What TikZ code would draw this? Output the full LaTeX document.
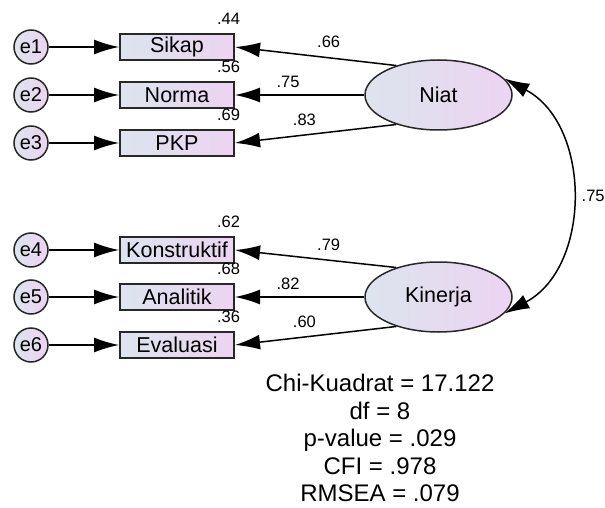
\documentclass[tikz,border=0pt]{standalone}
\usepackage{fontspec}
\setmainfont{Liberation Sans}
\usetikzlibrary{arrows.meta,shapes.geometric}
\definecolor{fillL}{RGB}{221,228,237}
\definecolor{fillR}{RGB}{236,212,242}
\definecolor{edge}{RGB}{40,40,40}

\begin{document}
\begin{tikzpicture}[x=1pt,y=-1pt,
 obs/.style={draw=edge,line width=2pt,left color=fillL,right color=fillR,
 minimum width=114pt,minimum height=26pt,inner sep=0pt,
 font=\fontsize{21.5}{24}\selectfont},
 err/.style={circle,draw=edge,line width=1.5pt,left color=fillL,
 right color=fillR,minimum size=34pt,inner sep=0pt,
 font=\fontsize{20}{22}\selectfont},
 lat/.style={ellipse,draw=edge,line width=1.5pt,left color=fillL,
 right color=fillR,minimum width=147pt,minimum height=70pt,inner sep=0pt,
 font=\fontsize{21.5}{24}\selectfont},
 reg/.style={line width=1.5pt,-{Latex[length=25pt,width=15pt]}},
 cov/.style={line width=1.5pt,{Latex[length=25pt,width=15pt]}-{Latex[length=25pt,width=15pt]}},
 coef/.style={inner sep=0pt,font=\fontsize{16.5}{18}\selectfont},
 rsq/.style={coef}]

  \useasboundingbox (0,0) rectangle (605,508);

  % indicators with their error terms
  \foreach \i/\name/\y/\r in {1/Sikap/47/.44, 2/Norma/95/.56, 3/PKP/143/.69,
   4/Konstruktif/250/.62, 5/Analitik/297/.68, 6/Evaluasi/345/.36}
  {\node[obs] (o\i) at (177,\y) {\name};
   \node[err] (e\i) at (31,\y) {e\i};
   \node[rsq] (r\i) at ([xshift=-6.5pt,yshift=14.5pt]o\i.north east) {\r};
   \draw[reg] (e\i) -- (o\i);
  }

  \node[lat] (niat) at (438.5,95) {Niat};
  \node[lat] (kin) at (438.5,297) {Kinerja};

  \draw[reg] (niat.145) -- (o1.east) node[coef,pos=.42,yshift=15.5pt] (c1) {.66};
  \draw[reg] (niat.west) -- (o2.east) node[coef,pos=.59,yshift=13.5pt] (c2) {.75};
  \draw[reg] (niat.215) -- (o3.east) node[coef,pos=.57,yshift=15pt] (c3) {.83};
  \draw[reg] (kin.145) -- (o4.east) node[coef,pos=.42,yshift=15.5pt] (c4) {.79};
  \draw[reg] (kin.west) -- (o5.east) node[coef,pos=.59,yshift=13.5pt] (c5) {.82};
  \draw[reg] (kin.215) -- (o6.east) node[coef,pos=.57,yshift=15pt] (c6) {.60};

  \draw[cov] (niat.14) to[bend left=62,looseness=1.08]
   node[coef,midway,right=11pt] (c7) {.75} (kin.-14);

  \node[align=center,font=\fontsize{24}{27.5}\selectfont] (fit) at (380,438)
   {Chi-Kuadrat = 17.122\\df = 8\\p-value = .029\\CFI = .978\\RMSEA = .079};

\end{tikzpicture}
\end{document}
